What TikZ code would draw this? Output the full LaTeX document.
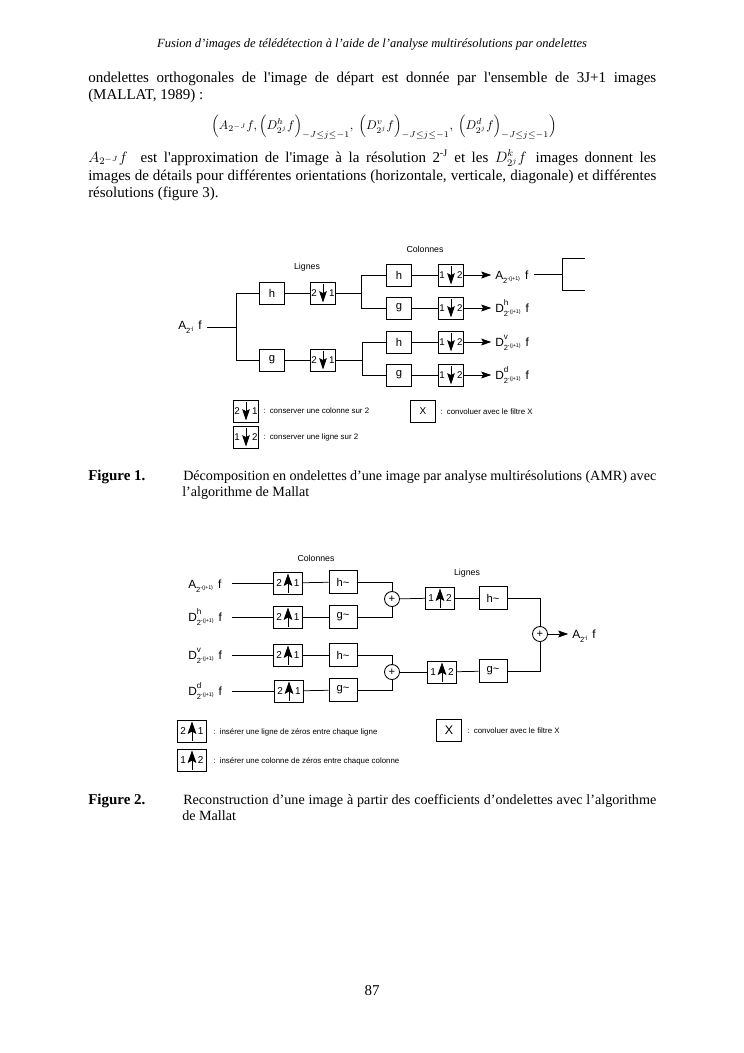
\documentclass[tikz,border=0pt]{standalone}
\usepackage{fontspec}
\newfontfamily\tnr{Liberation Serif}
\newfontfamily\ars{Liberation Sans}
\usetikzlibrary{arrows.meta}
\newcommand\pair[2]{\makebox[18.5pt]{#1\hfill#2}}
\newcommand\wl[3]{#1\makebox[0pt][l]{\raisebox{5.5pt}{\fontsize{6.5}{6.5}\selectfont#2}}\raisebox{-3.5pt}{\fontsize{6}{6}\selectfont 2\raisebox{2.5pt}{\fontsize{4.3}{4.3}\selectfont#3}}\hspace{4pt}f}
\begin{document}
\begin{tikzpicture}[x=0.8pt,y=-0.8pt,
 bx/.style={draw,line width=0.7pt,minimum width=20pt,minimum height=17.6pt,inner sep=0pt,font=\ars\fontsize{9}{9}\selectfont},
 bxb/.style={bx,minimum width=22.5pt,minimum height=18pt},
 dn/.style={bx,font=\ars\fontsize{7.8}{7.8}\selectfont,path picture={\draw[line width=0.8pt,-{Stealth[length=9pt,width=6pt,inset=1.5pt]}] ([yshift=-1.5pt]path picture bounding box.north) -- ([yshift=1.2pt]path picture bounding box.south);}},
 upb/.style={bx,minimum width=23pt,font=\ars\fontsize{8}{8}\selectfont,path picture={\draw[line width=0.6pt,-{Stealth[length=10pt,width=7pt,inset=2pt]}] ([yshift=1.2pt]path picture bounding box.south) -- ([yshift=-1.2pt]path picture bounding box.north);}},
 wire/.style={line width=0.6pt},
 arr/.style={wire,-{Stealth[length=8pt,width=5.5pt,inset=1.5pt]}},
 lab/.style={inner sep=0pt,anchor=base west,font=\ars\fontsize{9.5}{9.5}\selectfont},
 ttl/.style={inner sep=0pt,font=\ars\fontsize{7}{7}\selectfont},
 leg/.style={inner sep=0pt,anchor=west,font=\ars\fontsize{6.3}{6.3}\selectfont},
 pl/.style={draw,circle,line width=0.7pt,minimum size=12pt,inner sep=0pt,font=\ars\fontsize{9}{9}\selectfont},
 body/.style={inner sep=0pt,anchor=base west,font=\tnr\fontsize{12}{14}\selectfont},
 captxt/.style={inner sep=0pt,anchor=base west,font=\tnr\fontsize{11.3}{14}\selectfont}]
\useasboundingbox (0,0) rectangle (744,1053);
\fill[white] (0,0) rectangle (744,1053);

% header and text
\node[inner sep=0pt,anchor=base,font=\tnr\itshape\fontsize{10}{12}\selectfont] (hdr) at (372,47) {Fusion d’images de télédétection à l’aide de l’analyse multirésolutions par ondelettes};
\node[body] (l1) at (88,82) {\makebox[454.4pt][s]{ondelettes orthogonales de l'image de départ est donnée par l'ensemble de 3J+1 images}};
\node[body] (l2) at (88,99) {(MALLAT, 1989) :};
\node[body,anchor=base,font=\tnr\fontsize{10}{14}\selectfont] (fm) at (384,129) {$\Bigl(A_{2^{-J}}f,\Bigl(D^{h}_{2^j}f\Bigr)_{-J\le j\le -1},\ \Bigl(D^{v}_{2^j}f\Bigr)_{-J\le j\le -1},\ \Bigl(D^{d}_{2^j}f\Bigr)_{-J\le j\le -1}\Bigr)$};
\node[body] (l4) at (88,162) {\makebox[454.4pt][s]{$A_{2^{-J}}f$ \ est l'approximation de l'image à la résolution 2\textsuperscript{-J} et les $D^{k}_{2^j}f$\ \,images donnent les}};
\node[body] (l5) at (88,180) {\makebox[454.4pt][s]{images de détails pour différentes orientations (horizontale, verticale, diagonale) et différentes}};
\node[body] (l6) at (88,197) {résolutions (figure 3).};

% ---------- Figure 1 ----------
\node[ttl] (lig1) at (307,267) {Lignes};
\node[ttl] (col1) at (425,249) {Colonnes};
\node[lab] (ain) at (178,329) {\wl{A}{}{-j}};
\coordinate (j1) at (236,327);
\node[bx] (h1) at (272,293) {h};
\node[bx] (g1) at (272,360) {g};
\node[dn] (d1) at (323,293) {\pair21};
\node[dn] (d2) at (323,360) {\pair21};
\draw[wire,shorten <=4pt] (ain.east |- j1) -- (j1);
\draw[wire] (h1.west) -| (j1);
\draw[wire] (g1.west) -| (j1);
\draw[wire] (h1) -- (d1);
\draw[wire] (g1) -- (d2);
\coordinate (j2) at (361,293);
\coordinate (j3) at (362,360);
\draw[wire] (d1) -- (j2);
\draw[wire] (d2) -- (j3);
\node[bx] (hc1) at (399,275) {h};
\node[bx] (gc1) at (399,308) {g};
\node[bx] (hc2) at (399,342) {h};
\node[bx] (gc2) at (399,375) {g};
\draw[wire] (hc1.west) -| (j2);
\draw[wire] (gc1.west) -| (j2);
\draw[wire] (hc2.west) -| (j3);
\draw[wire] (gc2.west) -| (j3);
\node[dn] (e1) at (451,275) {\pair12};
\node[dn] (e2) at (451,308) {\pair12};
\node[dn] (e3) at (451,342) {\pair12};
\node[dn] (e4) at (451,375) {\pair12};
\draw[wire] (hc1) -- (e1);
\draw[wire] (gc1) -- (e2);
\draw[wire] (hc2) -- (e3);
\draw[wire] (gc2) -- (e4);
\node[lab] (o1) at (495,279) {\wl{A}{}{-(j+1)}};
\node[lab] (o2) at (495,312) {\wl{D}{h}{-(j+1)}};
\node[lab] (o3) at (495,346) {\wl{D}{v}{-(j+1)}};
\node[lab] (o4) at (495,379) {\wl{D}{d}{-(j+1)}};
\draw[arr,shorten >=3pt] (e1) -- (e1 -| o1.west);
\draw[arr,shorten >=3pt] (e2) -- (e2 -| o2.west);
\draw[arr,shorten >=3pt] (e3) -- (e3 -| o3.west);
\draw[arr,shorten >=3pt] (e4) -- (e4 -| o4.west);
\coordinate (k1) at (562,274);
\coordinate (b1) at (585,258);
\coordinate (b2) at (585,290);
\draw[wire,shorten <=4pt] (o1.east |- k1) -- (k1);
\draw[wire] (b1) -| (k1);
\draw[wire] (b2) -| (k1);
% legend 1
\node[dn] (lg1) at (246,411) {\pair21};
\node[leg] (lt1) at (263,411) {:\ \ conserver une colonne sur 2};
\node[dn] (lg2) at (246,437) {\pair12};
\node[leg] (lt2) at (263,437) {:\ \ conserver une ligne sur 2};
\node[bx,font=\ars\fontsize{8}{8}\selectfont] (lg3) at (423,411) {X};
\node[leg] (lt3) at (440,412) {:\ \ convoluer avec le filtre X};

% captions
\node[body,font=\tnr\bfseries\fontsize{12}{14}\selectfont] (c1a) at (88,480) {Figure 1.};
\node[captxt] (c1b) at (183,480) {\makebox[378.4pt][s]{Décomposition en ondelettes d’une image par analyse multirésolutions (AMR) avec}};
\node[captxt] (c1c) at (182,496) {l’algorithme de Mallat};

% ---------- Figure 2 ----------
\node[ttl] (col2) at (316,558) {Colonnes};
\node[ttl] (lig2) at (467,573) {Lignes};
\node[lab] (i1) at (188,588) {\wl{A}{}{-(j+1)}};
\node[lab] (i2) at (188,621) {\wl{D}{h}{-(j+1)}};
\node[lab] (i3) at (188,659) {\wl{D}{v}{-(j+1)}};
\node[lab] (i4) at (188,695) {\wl{D}{d}{-(j+1)}};
\node[upb] (u1) at (288,583) {\pair21};
\node[upb] (u2) at (288,617) {\pair21};
\node[upb] (u3) at (288,655) {\pair21};
\node[upb] (u4) at (289,691) {\pair21};
\draw[wire,shorten <=8pt] (i1.east |- u1) -- (u1);
\draw[wire,shorten <=8pt] (i2.east |- u2) -- (u2);
\draw[wire,shorten <=8pt] (i3.east |- u3) -- (u3);
\draw[wire,shorten <=8pt] (i4.east |- u4) -- (u4);
\node[bxb] (f1) at (343,582) {h\textasciitilde};
\node[bxb] (f2) at (343,617) {g\textasciitilde};
\node[bxb] (f3) at (343,655) {h\textasciitilde};
\node[bxb] (f4) at (343,690) {g\textasciitilde};
\draw[wire] (u1) -- (f1);
\draw[wire] (u2) -- (f2);
\draw[wire] (u3) -- (f3);
\draw[wire] (u4) -- (f4);
\node[pl] (p1) at (392,599) {+};
\node[pl] (p2) at (392,672) {+};
\draw[wire] (f1.east) -| (p1.north);
\draw[wire] (f2.east) -| (p1.south);
\draw[wire] (f3.east) -| (p2.north);
\draw[wire] (f4.east) -| (p2.south);
\node[upb] (v1) at (440,598) {\pair12};
\node[upb] (v2) at (442,672) {\pair12};
\node[bxb] (f5) at (493,598) {h\textasciitilde};
\node[bxb] (f6) at (493,671) {g\textasciitilde};
\node[pl] (p3) at (540,634) {+};
\draw[wire] (p1) -- (v1);
\draw[wire] (v1) -- (f5);
\draw[wire] (f5.east) -| (p3.north);
\draw[wire] (p2) -- (v2);
\draw[wire] (v2) -- (f6);
\draw[wire] (f6.east) -| (p3.south);
\node[lab] (out) at (572,638) {\wl{A}{}{-j}};
\draw[arr,shorten >=3pt] (p3) -- (p3 -| out.west);
% legend 2
\node[upb] (lu1) at (192,731) {\pair21};
\node[leg] (lut1) at (213,732) {:\ \ insérer une ligne de zéros entre chaque ligne};
\node[upb] (lu2) at (192,760) {\pair12};
\node[leg] (lut2) at (213,761) {:\ \ insérer une colonne de zéros entre chaque colonne};
\node[bx,font=\ars\fontsize{10}{10}\selectfont] (lx) at (449,730) {X};
\node[leg] (lxt) at (467,731) {:\ \ convoluer avec le filtre X};

\node[body,font=\tnr\bfseries\fontsize{12}{14}\selectfont] (c2a) at (88,804) {Figure 2.};
\node[captxt] (c2b) at (183,804) {\makebox[378.4pt][s]{Reconstruction d’une image à partir des coefficients d’ondelettes avec l’algorithme}};
\node[captxt] (c2c) at (182,820) {de Mallat};

\node[body,anchor=base] (pg) at (372,995) {87};
\end{tikzpicture}
\end{document}
